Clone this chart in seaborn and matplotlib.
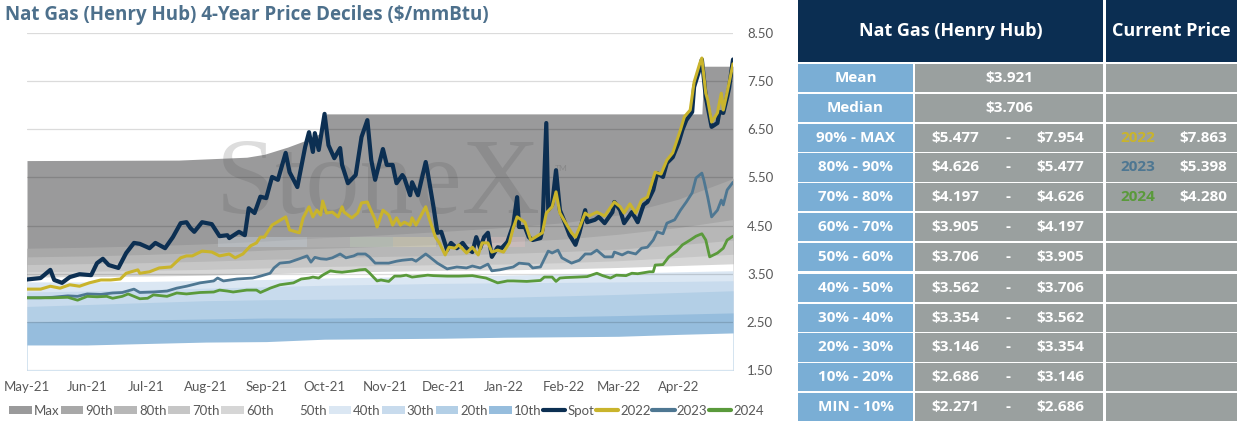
import numpy as np
import pandas as pd
import matplotlib
matplotlib.use("Agg")
import matplotlib.pyplot as plt
import matplotlib.dates as mdates
from matplotlib.patches import Patch, Rectangle
from matplotlib.lines import Line2D
import seaborn as sns


# ---- data ----
DAY0 = pd.Timestamp("2021-05-01")

# spot and strip prices, x = days after 1 May 2021
spot_days = [0, 7, 12, 14, 18, 22, 27, 33, 36, 39, 42, 47, 51, 55, 58, 63, 66, 71, 75, 79,
             82, 84, 86, 90, 95, 99, 103, 104, 109, 112, 114, 117, 120, 123, 126, 129, 133, 135, 139, 143,
             145, 147, 148, 150, 153, 155, 158, 161, 162, 165, 169, 172, 175, 177, 179, 183, 185, 188, 190, 193,
             194, 197, 198, 201, 205, 206, 209, 211, 213, 216, 218, 221, 224, 226, 229, 231, 233, 235, 237, 239,
             242, 244, 247, 250, 252, 253, 256, 258, 260, 264, 265, 267, 268, 270, 272, 274, 276, 279, 282, 284,
             287, 288, 292, 294, 297, 301, 302, 305, 307, 311, 314, 317, 319, 322, 324, 327, 329, 332, 335, 337,
             339, 342, 343, 346, 347, 349, 350, 352, 355, 356, 358, 360, 361, 363]
spot_vals = [3.38, 3.41, 3.58, 3.37, 3.31, 3.43, 3.49, 3.47, 3.72, 3.81, 3.68, 3.62, 3.93, 4.14, 4.12, 4.03, 4.14, 4.03, 4.26, 4.55,
             4.57, 4.45, 4.37, 4.57, 4.53, 4.28, 4.30, 4.24, 4.37, 4.30, 4.86, 4.76, 5.10, 5.07, 5.51, 5.45, 6.01, 5.61, 5.30, 6.13,
             6.44, 6.03, 6.42, 6.07, 6.82, 6.17, 5.90, 6.11, 5.76, 5.38, 5.55, 6.34, 6.69, 5.86, 5.45, 6.09, 5.76, 5.76, 5.38, 5.55,
             5.49, 5.13, 5.40, 5.13, 5.82, 5.61, 4.89, 4.35, 4.37, 3.99, 4.14, 4.03, 4.14, 4.03, 3.95, 4.26, 4.03, 4.26, 4.35, 3.85,
             4.05, 4.03, 4.16, 4.51, 5.09, 4.47, 4.47, 4.26, 4.20, 4.24, 4.41, 6.63, 4.82, 4.93, 5.65, 4.82, 4.62, 4.30, 4.10, 4.35,
             4.82, 4.57, 4.62, 4.68, 4.55, 4.78, 4.99, 4.82, 4.55, 4.78, 4.57, 4.93, 4.99, 5.24, 5.59, 5.51, 5.80, 5.92, 6.22, 6.49,
             6.69, 6.86, 7.38, 7.77, 7.95, 7.17, 6.96, 6.55, 6.63, 6.86, 6.84, 7.17, 7.36, 7.95]

y2022_days = [0, 7, 12, 17, 22, 27, 32, 38, 43, 48, 51, 57, 58, 63, 68, 74, 79, 82, 85, 90,
              95, 99, 104, 107, 111, 115, 118, 120, 122, 126, 133, 135, 140, 142, 145, 147, 149, 151, 152, 154,
              157, 160, 162, 163, 167, 170, 172, 175, 176, 179, 180, 183, 186, 188, 190, 192, 194, 197, 198, 200,
              205, 207, 210, 212, 215, 217, 220, 222, 226, 229, 232, 234, 237, 239, 242, 245, 248, 250, 252, 256,
              259, 265, 267, 270, 272, 274, 276, 280, 282, 284, 287, 289, 293, 297, 302, 305, 307, 310, 313, 316,
              319, 323, 326, 329, 332, 336, 338, 341, 343, 346, 347, 349, 350, 352, 355, 356, 357, 358, 360, 363]
y2022_vals = [3.18, 3.18, 3.24, 3.20, 3.27, 3.24, 3.31, 3.37, 3.37, 3.39, 3.51, 3.58, 3.51, 3.54, 3.62, 3.64, 3.83, 3.87, 3.87, 3.97,
              3.95, 3.87, 3.91, 3.83, 3.91, 4.08, 4.14, 4.26, 4.26, 4.51, 4.68, 4.41, 4.35, 4.66, 4.89, 4.68, 4.82, 4.72, 5.01, 4.76,
              4.78, 4.68, 4.89, 4.78, 4.66, 4.76, 4.97, 4.99, 4.89, 4.62, 4.47, 4.82, 4.72, 4.51, 4.66, 4.51, 4.57, 4.51, 4.66, 4.51,
              4.89, 4.62, 4.26, 4.14, 3.89, 4.05, 4.03, 4.10, 3.93, 4.05, 3.89, 4.14, 4.14, 3.95, 3.99, 3.95, 4.14, 4.45, 4.68, 4.57,
              4.20, 4.35, 4.76, 4.89, 5.20, 4.76, 4.62, 4.35, 4.26, 4.45, 4.76, 4.70, 4.78, 4.70, 4.99, 4.89, 4.76, 4.95, 4.76, 5.03,
              5.09, 5.61, 5.57, 5.86, 6.01, 6.49, 6.76, 6.90, 7.48, 7.88, 7.98, 7.25, 7.11, 6.65, 6.84, 7.05, 7.25, 6.90, 7.27, 7.86]

y2023_days = [0, 7, 13, 21, 26, 31, 38, 44, 49, 55, 58, 65, 72, 77, 82, 89, 96, 98, 101, 108,
              116, 120, 125, 127, 130, 135, 140, 144, 146, 148, 151, 154, 157, 161, 164, 168, 170, 174, 176, 179,
              182, 186, 190, 193, 198, 200, 205, 207, 211, 216, 221, 226, 229, 233, 237, 239, 243, 250, 253, 258,
              260, 264, 268, 270, 273, 275, 280, 284, 287, 290, 293, 297, 301, 302, 306, 309, 313, 316, 319, 322,
              324, 327, 329, 333, 336, 339, 342, 344, 347, 348, 350, 352, 355, 357, 358, 360, 363]
y2023_vals = [3.00, 3.00, 3.01, 3.04, 3.03, 3.08, 3.07, 3.10, 3.11, 3.18, 3.11, 3.12, 3.14, 3.20, 3.24, 3.31, 3.35, 3.41, 3.35, 3.39,
              3.41, 3.45, 3.51, 3.62, 3.72, 3.74, 3.81, 3.87, 3.74, 3.84, 3.81, 3.80, 3.83, 3.91, 3.83, 3.87, 3.91, 3.91, 3.85, 3.72,
              3.72, 3.72, 3.76, 3.78, 3.80, 3.76, 3.91, 3.85, 3.72, 3.60, 3.64, 3.62, 3.66, 3.62, 3.70, 3.56, 3.58, 3.64, 3.72, 3.70,
              3.62, 3.64, 3.97, 3.93, 3.99, 3.83, 3.72, 3.78, 3.91, 3.91, 3.99, 3.85, 3.85, 3.95, 3.89, 3.95, 3.91, 4.03, 4.05, 4.20,
              4.37, 4.33, 4.55, 4.62, 4.82, 4.99, 5.18, 5.49, 5.59, 5.45, 5.09, 4.68, 4.82, 5.03, 4.93, 5.24, 5.40]

y2024_days = [0, 13, 21, 26, 31, 36, 41, 44, 49, 52, 55, 58, 62, 65, 72, 77, 82, 89, 96, 99,
              103, 106, 113, 118, 120, 124, 125, 130, 137, 141, 145, 147, 150, 152, 156, 159, 162, 168, 171, 174,
              176, 180, 182, 186, 189, 192, 195, 198, 202, 206, 209, 216, 222, 229, 236, 242, 247, 250, 257, 264,
              266, 270, 272, 274, 277, 283, 288, 293, 296, 300, 303, 308, 311, 314, 320, 322, 323, 327, 330, 334,
              337, 341, 344, 347, 349, 351, 355, 358, 360, 363]
y2024_vals = [3.00, 3.00, 3.01, 2.95, 3.03, 3.02, 3.03, 2.99, 3.03, 3.08, 3.03, 2.98, 2.99, 3.06, 3.03, 3.10, 3.08, 3.11, 3.12, 3.16,
              3.14, 3.12, 3.16, 3.16, 3.11, 3.18, 3.20, 3.27, 3.31, 3.39, 3.41, 3.43, 3.41, 3.47, 3.56, 3.54, 3.53, 3.56, 3.58, 3.59,
              3.52, 3.35, 3.37, 3.34, 3.45, 3.45, 3.47, 3.43, 3.45, 3.47, 3.46, 3.45, 3.45, 3.46, 3.41, 3.31, 3.35, 3.35, 3.34, 3.36,
              3.43, 3.43, 3.34, 3.41, 3.42, 3.43, 3.44, 3.51, 3.46, 3.41, 3.47, 3.46, 3.51, 3.50, 3.54, 3.54, 3.68, 3.69, 3.85, 3.97,
              4.10, 4.20, 4.28, 4.33, 4.20, 3.85, 3.93, 4.03, 4.20, 4.28]

# 4-year decile boundaries through time
band_dates = ["2021-05-01", "2021-06-01", "2021-07-01", "2021-08-01", "2021-09-01", "2021-10-01", "2021-11-01",
              "2021-12-01", "2022-01-01", "2022-02-01", "2022-03-01", "2022-04-01", "2022-04-29"]
p90 = [4.03, 4.05, 4.08, 4.12, 4.18, 4.25, 4.31, 4.38, 4.46, 4.56, 4.72, 5.05, 5.477]
p80 = [3.85, 3.87, 3.90, 3.94, 3.99, 4.03, 4.07, 4.11, 4.16, 4.22, 4.32, 4.46, 4.626]
p70 = [3.69, 3.71, 3.73, 3.76, 3.80, 3.83, 3.86, 3.88, 3.92, 3.96, 4.01, 4.10, 4.197]
p60 = [3.54, 3.55, 3.57, 3.59, 3.62, 3.65, 3.67, 3.69, 3.70, 3.73, 3.77, 3.84, 3.905]
p50 = [3.43, 3.44, 3.45, 3.47, 3.50, 3.53, 3.55, 3.57, 3.58, 3.60, 3.63, 3.67, 3.706]
p40 = [3.33, 3.33, 3.34, 3.36, 3.38, 3.41, 3.43, 3.45, 3.47, 3.49, 3.51, 3.54, 3.562]
p30 = [3.12, 3.14, 3.17, 3.20, 3.23, 3.26, 3.28, 3.30, 3.31, 3.32, 3.33, 3.34, 3.354]
p20 = [2.82, 2.86, 2.90, 2.94, 2.96, 2.97, 2.98, 2.99, 3.01, 3.04, 3.07, 3.11, 3.146]
p10 = [2.50, 2.52, 2.54, 2.56, 2.58, 2.58, 2.59, 2.59, 2.60, 2.61, 2.63, 2.66, 2.686]
p00 = [2.02, 2.02, 2.05, 2.08, 2.09, 2.14, 2.15, 2.16, 2.18, 2.19, 2.20, 2.24, 2.27]

max_dates = ["2021-05-01", "2021-07-18", "2021-08-22", "2021-08-31", "2021-09-12", "2021-09-22",
             "2021-09-29", "2021-10-02", "2022-04-13", "2022-04-14", "2022-04-29"]
max_vals = [5.85, 5.86, 5.92, 5.98, 6.13, 6.28, 6.42, 6.82, 6.82, 7.81, 7.81]

band_labels = ["Max", "90th", "80th", "70th", "60th", "50th", "40th", "30th", "20th", "10th"]
band_colors = ["#9a9a9b", "#a8a8a8", "#b7b7b7", "#c6c6c6", "#d6d6d6", "#ffffff",
               "#dbe7f3", "#c8dbed", "#b3cfe6", "#96bddd"]

line_labels = ["Spot", "2022", "2023", "2024"]
line_colors = ["#0c2f52", "#c9b42c", "#4e7792", "#5a9a3b"]

# table
row_labels = ["Mean", "Median", "90% - MAX", "80% - 90%", "70% - 80%", "60% - 70%", "50% - 60%",
              "40% - 50%", "30% - 40%", "20% - 30%", "10% - 20%", "MIN - 10%"]
single_vals = ["$3.921", "$3.706"]
range_lo = ["$5.477", "$4.626", "$4.197", "$3.905", "$3.706", "$3.562", "$3.354", "$3.146", "$2.686", "$2.271"]
range_hi = ["$7.954", "$5.477", "$4.626", "$4.197", "$3.905", "$3.706", "$3.562", "$3.354", "$3.146", "$2.686"]
cur_years = ["2022", "2023", "2024"]
cur_prices = ["$7.863", "$5.398", "$4.280"]

NAVY = "#0b2e52"
CELL_BLUE = "#7aaed5"
CELL_GRAY = "#9aa09f"
TXT_GRAY = "#595959"
BOLD_FONT = ["Open Sans", "Roboto", "DejaVu Sans"]


def days_to_dates(days):
    return DAY0 + pd.to_timedelta(days, unit="D")


sns.set_style("white")
plt.rcParams["font.family"] = ["Lato", "DejaVu Sans"]

fig = plt.figure(figsize=(12.37, 4.21), dpi=100)
ax = fig.add_axes([27 / 1237, 51 / 421, 706 / 1237, 337 / 421])

# stacked decile bands: each boundary filled down, lower ones painted over
bd = pd.to_datetime(band_dates)
ax.fill_between(pd.to_datetime(max_dates), max_vals, 1.5, color=band_colors[0], lw=0, zorder=1)
for vals, col in zip([p90, p80, p70, p60, p50, p40, p30, p20, p10], band_colors[1:]):
    ax.fill_between(bd, vals, 1.5, color=col, lw=0, zorder=1)
ax.fill_between(bd, p00, 1.5, color="white", lw=0, zorder=1)

# watermark
ax.text(0.268, 0.466, "StoneX", transform=ax.transAxes, fontsize=78, family="Liberation Serif",
        color="#555555", alpha=0.2, ha="left", va="baseline", zorder=2)
ax.text(0.748, 0.59, "TM", transform=ax.transAxes, fontsize=6, color="#777777", alpha=0.5, zorder=2)
stripe = [(218, 307, "#d2dde8"), (307, 350, "#bcbcbc"), (350, 393, "#c6d8bf"),
          (393, 436, "#e6ddb3"), (480, 525, "#e8c3c3")]
for x0, x1, c in stripe:
    ax.add_patch(Rectangle(((x0 - 27) / 706, 0.366), (x1 - x0) / 706, 0.03,
                           transform=ax.transAxes, color=c, alpha=0.35, lw=0, zorder=2))

series = [(spot_days, spot_vals, 3.0), (y2022_days, y2022_vals, 2.2),
          (y2023_days, y2023_vals, 2.0), (y2024_days, y2024_vals, 2.0)]
for (days, vals, lw), col in zip(series, line_colors):
    sns.lineplot(x=days_to_dates(days), y=vals, ax=ax, color=col, linewidth=lw,
                 legend=False, zorder=4)

ax.set_ylim(1.5, 8.5)
ax.set_xlim(DAY0, pd.Timestamp("2022-04-29"))
ax.set_yticks(np.arange(1.5, 8.51, 1.0))
ax.yaxis.set_major_formatter(plt.FormatStrFormatter("%.2f"))
ax.yaxis.tick_right()
ax.xaxis.set_major_locator(mdates.MonthLocator())
ax.xaxis.set_major_formatter(mdates.DateFormatter("%b-%y"))
ax.set_axisbelow(False)
ax.grid(axis="y", color="black", alpha=0.14, lw=0.9)
ax.grid(axis="x", visible=False)
for s in ax.spines.values():
    s.set_visible(False)
ax.tick_params(axis="both", length=0, labelsize=9.5, labelcolor=TXT_GRAY)
ax.tick_params(axis="y", pad=10)
ax.tick_params(axis="x", pad=8)
ax.set_xlabel("")
ax.set_ylabel("")

fig.text(5 / 1237, 1 - 15 / 421, "Nat Gas (Henry Hub) 4-Year Price Deciles ($/mmBtu)",
         fontsize=13.5, fontweight="bold", family=BOLD_FONT, color="#4d708c", ha="left", va="center")

handles = [Patch(facecolor=c, edgecolor="none") for c in band_colors]
handles += [Line2D([], [], color=c, lw=3) for c in line_colors]
fig.legend(handles, band_labels + line_labels, loc="center left", bbox_to_anchor=(0.0, 0.024),
           ncol=14, frameon=False, fontsize=9.5, handlelength=1.7, handleheight=0.6,
           handletextpad=0.15, columnspacing=0.12, labelcolor=TXT_GRAY, borderpad=0.2)

# ---- table on the right ----
tab = fig.add_axes([0, 0, 1, 1])
tab.set_xlim(0, 1237)
tab.set_ylim(421, 0)
tab.axis("off")

hdr_kw = dict(color="white", fontsize=13, fontweight="bold", family=BOLD_FONT,
              ha="center", va="center")
tab.add_patch(Rectangle((798, 0), 305, 62, color=NAVY, lw=0))
tab.add_patch(Rectangle((1106, 0), 131, 62, color=NAVY, lw=0))
tab.text(950.5, 31, "Nat Gas (Henry Hub)", **hdr_kw)
tab.text(1171.5, 31, "Current Price", **hdr_kw)

cell_kw = dict(color="white", fontsize=11, fontweight="bold", family=BOLD_FONT,
               ha="center", va="center")
for i, lab in enumerate(row_labels):
    top = 64 + i * 29.75 + (1.5 if i >= 7 else 0)
    h = 28.3
    yc = top + h / 2
    tab.add_patch(Rectangle((798, top), 115, h, color=CELL_BLUE, lw=0))
    tab.add_patch(Rectangle((915, top), 188, h, color=CELL_GRAY, lw=0))
    tab.add_patch(Rectangle((1106, top), 131, h, color=CELL_GRAY, lw=0))
    tab.text(855.5, yc, lab, **cell_kw)
    if i < len(single_vals):
        tab.text(1009, yc, single_vals[i], **cell_kw)
    else:
        k = i - len(single_vals)
        tab.text(955, yc, range_lo[k], **cell_kw)
        tab.text(1008, yc, "-", **cell_kw)
        tab.text(1060, yc, range_hi[k], **cell_kw)
        if k < len(cur_years):
            tab.text(1138, yc, cur_years[k], **{**cell_kw, "color": line_colors[k + 1]})
            tab.text(1203, yc, cur_prices[k], **cell_kw)

fig.savefig("out.png", dpi=100)
